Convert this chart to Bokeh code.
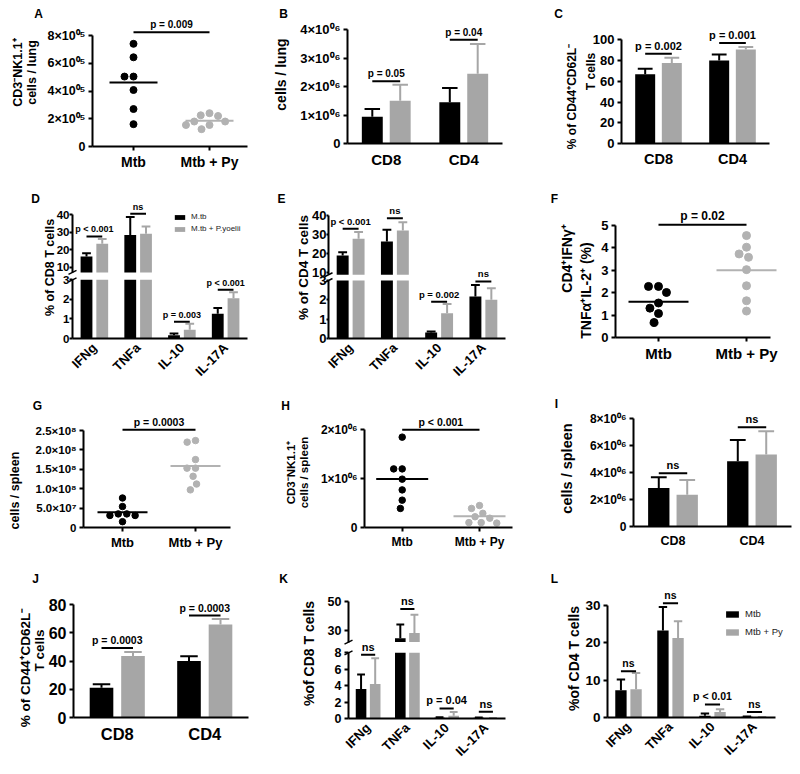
import math
import numpy as np
from bokeh.plotting import figure
from bokeh.models import (Range1d, FixedTicker, Label, Legend, LegendItem,
                          ColumnDataSource, LinearAxis)
from bokeh.transform import dodge
from bokeh.layouts import row, column
from bokeh.embed import file_html
from bokeh.resources import INLINE
from bokeh.core.properties import value

# ------------------------------------------------------------------ data
GROUPS = ["Mtb", "Mtb + Py"]
SUBSETS = ["CD8", "CD4"]
CYTOKINES = ["IFNg", "TNFa", "IL-10", "IL-17A"]

# A  CD3-NK1.1+ cells / lung
A_MTB = [7.4e5, 6.43e5, 5.04e5, 5.04e5, 4.07e5, 2.7e5, 1.61e5]
A_MTB_PY = [2.4e5, 2.25e5, 2.2e5, 1.8e5, 1.8e5, 1.55e5, 1.55e5, 1.25e5]
A_TICKS = [0, 200000, 400000, 600000, 800000]
A_TICK_LABELS = ["0", "2×10⁰⁵", "4×10⁰⁵", "6×10⁰⁵", "8×10⁰⁵"]
A_P_TEXT = "p = 0.009"
A_P_Y = 8.24e5

# B  cells / lung
B_MTB = [0.94e6, 1.45e6]
B_MTB_SD = [0.27e6, 0.50e6]
B_PY = [1.50e6, 2.45e6]
B_PY_SD = [0.57e6, 1.05e6]
B_TICKS = [0, 1000000, 2000000, 3000000, 4000000]
B_TICK_LABELS = ["0", "1×10⁰⁶", "2×10⁰⁶", "3×10⁰⁶", "4×10⁰⁶"]
B_P_TEXT = ["p = 0.05", "p = 0.04"]
B_P_Y = [2.19e6, 3.65e6]

# C  % CD44+CD62L- T cells (lung)
C_MTB = [66.7, 80.1]
C_MTB_SD = [5.4, 5.8]
C_PY = [77.6, 90.7]
C_PY_SD = [5.1, 2.3]
C_TICKS = [0, 20, 40, 60, 80, 100]
C_P_TEXT = ["p = 0.002", "p = 0.001"]
C_P_Y = [86.5, 96.8]

# D  % of CD8 T cells (lung cytokines)
D_MTB = [16.1, 28.5, 0.17, 1.27]
D_MTB_SD = [1.9, 10.2, 0.09, 0.29]
D_PY = [23.4, 29.1, 0.45, 2.06]
D_PY_SD = [2.8, 4.2, 0.30, 0.31]
D_LOW_TICKS = [0, 1, 2, 3]
D_UP_TICKS = [10, 20, 30, 40]
D_BREAK = 7.0
D_P_TEXT = ["p < 0.001", "ns", "p = 0.003", "p < 0.001"]
D_P_Y = [27.6, 40.6, 0.86, 2.49]
D_LEGEND = ["M.tb", "M.tb + P.yoelii"]

# E  % of CD4 T cells (lung cytokines)
E_MTB = [19.1, 26.4, 0.31, 2.17]
E_MTB_SD = [1.7, 6.1, 0.05, 0.60]
E_PY = [27.8, 32.2, 1.30, 2.00]
E_PY_SD = [3.5, 4.3, 0.49, 0.60]
E_LOW_TICKS = [0, 1, 2, 3]
E_UP_TICKS = [10, 20, 30, 40]
E_BREAK = 9.0
E_P_TEXT = ["p < 0.001", "ns", "p = 0.002", "ns"]
E_P_Y = [33.0, 38.6, 1.90, 2.95]

# F  CD4+IFNg+TNFa+IL-2+ (%)
F_MTB = [2.28, 2.28, 2.01, 1.54, 1.31, 1.07, 0.67]
F_MTB_PY = [4.55, 4.03, 3.73, 3.58, 3.03, 2.31, 1.64, 1.18]
F_TICKS = [0, 1, 2, 3, 4, 5]
F_P_TEXT = "p = 0.02"
F_P_Y = 5.03

# G  cells / spleen
G_MTB = [7.6e7, 5.4e7, 3.5e7, 3.5e7, 3.1e7, 3.1e7, 1.5e7]
G_MTB_PY = [2.24e8, 2.2e8, 1.75e8, 1.53e8, 1.53e8, 1.32e8, 1.12e8, 0.97e8]
G_TICKS = [0, 50000000, 100000000, 150000000, 200000000, 250000000]
G_TICK_LABELS = ["0", "5.0×10⁷", "1.0×10⁸", "1.5×10⁸", "2.0×10⁸", "2.5×10⁸"]
G_P_TEXT = "p = 0.0003"
G_P_Y = 2.52e8

# H  CD3-NK1.1+ cells / spleen
H_MTB = [1.85e6, 1.2e6, 1.2e6, 0.99e6, 0.77e6, 0.56e6, 0.39e6]
H_MTB_PY = [0.45e6, 0.39e6, 0.29e6, 0.22e6, 0.19e6, 0.10e6, 0.10e6, 0.09e6]
H_TICKS = [0, 1000000, 2000000]
H_TICK_LABELS = ["0", "1×10⁰⁶", "2×10⁰⁶"]
H_P_TEXT = "p < 0.001"
H_P_Y = 2.0e6

# I  cells / spleen (CD8, CD4)
I_MTB = [2.86e6, 4.84e6]
I_MTB_SD = [0.79e6, 1.59e6]
I_PY = [2.36e6, 5.34e6]
I_PY_SD = [1.09e6, 1.74e6]
I_TICKS = [0, 2000000, 4000000, 6000000, 8000000]
I_TICK_LABELS = ["0", "2×10⁰⁶", "4×10⁰⁶", "6×10⁰⁶", "8×10⁰⁶"]
I_P_TEXT = ["ns", "ns"]
I_P_Y = [3.95e6, 7.38e6]

# J  % CD44+CD62L- T cells (spleen)
J_MTB = [21.2, 40.1]
J_MTB_SD = [2.4, 3.3]
J_PY = [43.6, 66.0]
J_PY_SD = [2.9, 4.0]
J_TICKS = [0, 20, 40, 60, 80]
J_P_TEXT = ["p = 0.0003", "p = 0.0003"]
J_P_Y = [49.3, 72.4]

# K  % of CD8 T cells (spleen cytokines)
K_MTB = [3.6, 24.7, 0.10, 0.10]
K_MTB_SD = [1.75, 9.4, 0.04, 0.03]
K_PY = [4.2, 28.2, 0.35, 0.05]
K_PY_SD = [3.15, 12.6, 0.45, 0.02]
K_LOW_TICKS = [0, 2, 4, 6, 8]
K_UP_TICKS = [30, 50]
K_BREAK = 22.0
K_P_TEXT = ["ns", "ns", "p = 0.04", "ns"]
K_P_Y = [7.76, 44.9, 1.22, 0.82]

# L  % of CD4 T cells (spleen cytokines)
L_MTB = [7.3, 23.3, 0.45, 0.20]
L_MTB_SD = [2.85, 6.3, 0.62, 0.10]
L_PY = [7.57, 21.3, 1.50, 0.10]
L_PY_SD = [4.33, 4.5, 0.70, 0.05]
L_TICKS = [0, 10, 20, 30]
L_P_TEXT = ["ns", "ns", "p < 0.01", "ns"]
L_P_Y = [12.4, 30.6, 3.5, 1.5]
L_LEGEND = ["Mtb", "Mtb + Py"]

# ------------------------------------------------------------------ style
FONT = "Liberation Sans"
BLACK = "#000000"
GRAY = "#a6a6a6"
DOT_GRAY = "#b2b2b2"
BW = 0.27      # bar width (fraction of a category)
OFF = 0.18     # dodge of each series
CW = 0.10      # half width of error caps


def lin(p0, v0, p1, v1):
    k = (v1 - v0) / (p1 - p0)
    return lambda a: v0 + (a - p0) * k


def style_axis(ax, size, ticks=True, tick_out=4, standoff=3):
    ax.axis_line_width = 2
    ax.axis_line_color = BLACK
    ax.major_tick_line_width = 2
    ax.major_tick_line_color = BLACK if ticks else None
    ax.major_tick_out = tick_out
    ax.major_tick_in = 0
    ax.minor_tick_line_color = None
    ax.major_label_text_font = FONT
    ax.major_label_text_font_style = "bold"
    ax.major_label_text_font_size = size
    ax.major_label_text_color = BLACK
    ax.major_label_standoff = standoff


class Panel:
    """A figure whose frame is the whole box; axes are pinned inside it."""

    def __init__(self, spec, xmap):
        self.spec = spec
        x0, y0, w, h = spec["box"]
        self.xv = xmap
        (yp0, yv0), (yp1, yv1) = spec["ycal"]
        self.yv = lin(yp0, yv0, yp1, yv1)
        self.p = figure(width=w, height=h,
                        x_range=Range1d(self.xv(x0), self.xv(x0 + w)),
                        y_range=Range1d(self.yv(y0 + h), self.yv(y0)),
                        output_backend="svg", toolbar_location=None,
                        min_border=0, x_axis_location=None, y_axis_location=None)
        p = self.p
        p.outline_line_color = None
        p.xgrid.visible = False
        p.ygrid.visible = False
        p.background_fill_color = "white"
        p.border_fill_color = "white"

    def yaxis(self, ticks, labels=None, rn="default", bounds=None):
        fl = self.spec["frame"][0]
        ax = LinearAxis(y_range_name=rn, fixed_location=self.xv(fl),
                        bounds=bounds if bounds else (ticks[0], ticks[-1]),
                        ticker=FixedTicker(ticks=ticks))
        style_axis(ax, self.spec["tick_size"], tick_out=self.spec.get("tick_out", 4),
                   standoff=self.spec.get("standoff", 3))
        if labels is not None:
            ax.major_label_overrides = dict(zip(ticks, labels))
        self.p.add_layout(ax, "left")
        return ax

    def xaxis(self, ticks, labels, tick_marks):
        fl, fr, ft, fb = self.spec["frame"]
        ax = LinearAxis(fixed_location=0, bounds=(self.xv(fl), self.xv(fr)),
                        ticker=FixedTicker(ticks=ticks))
        style_axis(ax, self.spec["cat_size"], ticks=tick_marks)
        ax.major_label_overrides = dict(zip(ticks, labels))
        if self.spec.get("rotate"):
            ax.major_label_orientation = math.pi / 4
        self.p.add_layout(ax, "below")
        return ax

    def label(self, text, x, y, size, angle=0.0):
        x0, y0, w, h = self.spec["box"]
        self.p.add_layout(Label(x=x - x0, y=(y0 + h) - y, x_units="screen",
                                y_units="screen", text=text, angle=angle,
                                text_font=FONT, text_font_style="bold",
                                text_font_size=size, text_align="center",
                                text_baseline="middle", text_color=BLACK))

    def texts(self):
        s = self.spec
        self.label(s["name"], s["letter"][0], s["letter"][1], "12px")
        for (t, x, y) in s["ylab"]:
            self.label(t, x, y, s["ylab_size"], angle=math.pi / 2)


def swarm(ys_px, d):
    placed, out = [], []
    for y in ys_px:
        cands = [0.0]
        for (px, py) in placed:
            dy = abs(y - py)
            if dy < d:
                dx = math.sqrt(d * d - dy * dy)
                cands.extend([px - dx, px + dx])
        ok = [c for c in cands
              if all((c - px) ** 2 + (y - py) ** 2 >= d * d - 1e-6 for px, py in placed)]
        best = min(ok, key=lambda c: (abs(c), c))
        placed.append((best, y))
        out.append(best)
    return out


def p_text(p, src, x, size, rn="default"):
    p.text(x=x, y="y", text="t", source=src, text_font=value(FONT),
           text_font_style="bold", text_font_size=value(size),
           text_align="center", text_baseline="bottom", y_offset=-2,
           text_color=BLACK, y_range_name=rn)


def scatter_panel(spec, mtb, mtb_py, ticks, tick_labels, ptext, p_y):
    xa, xb = spec["xcal"]
    P = Panel(spec, lin(xa, 0.0, xb, 1.0))
    p = P.p
    xpx = xb - xa
    (yp0, yv0), (yp1, yv1) = spec["ycal"]
    ypx = (yp0 - yp1) / (yv1 - yv0)
    hw = spec["mean_hw"] / xpx
    for gi, (vals, col) in enumerate([(mtb, BLACK), (mtb_py, DOT_GRAY)]):
        order = sorted(vals, reverse=True)
        offs = swarm([v * ypx for v in order], spec["dot"] + 2.0)
        p.scatter([gi + o / xpx for o in offs], order, size=spec["dot"],
                  fill_color=col, line_color=col)
        m = float(np.mean(vals))
        p.segment(x0=[gi - hw], x1=[gi + hw], y0=[m], y1=[m],
                  line_color=col, line_width=2)
    src = ColumnDataSource(dict(x0=[0.0], x1=[1.0], xm=[0.5], y=[p_y], t=[ptext]))
    p.segment(x0="x0", x1="x1", y0="y", y1="y", source=src, line_color=BLACK, line_width=2)
    p_text(p, src, "xm", spec["p_size"])
    P.yaxis(ticks, tick_labels)
    P.xaxis([0, 1], GROUPS, True)
    P.texts()
    return p


def draw_series(p, xs, vals, sds, off, color, lo, hi, rn):
    v = np.asarray(vals, float)
    e = v + np.asarray(sds, float)
    src = ColumnDataSource(dict(x=xs, top=np.clip(v, lo, hi),
                                bottom=np.full(len(v), lo),
                                e0=np.clip(v, lo, hi), e1=np.clip(e, lo, hi)))
    r = p.vbar(x=dodge("x", off), top="top", bottom="bottom", width=BW, source=src,
               fill_color=color, line_color=None, y_range_name=rn)
    p.segment(x0=dodge("x", off), x1=dodge("x", off), y0="e0", y1="e1", source=src,
              line_color=color, line_width=2, y_range_name=rn)
    mask = (e >= lo) & (e <= hi) & (v >= lo)
    csrc = ColumnDataSource(dict(x=xs[mask], y=e[mask]))
    p.segment(x0=dodge("x", off - CW), x1=dodge("x", off + CW), y0="y", y1="y",
              source=csrc, line_color=color, line_width=2, y_range_name=rn)
    return r


def bar_panel(spec, cats, mtb, mtb_sd, py, py_sd, ptexts, p_ys, ticks,
              tick_labels=None, broken=None):
    n = len(cats)
    fl, fr, ft, fb = spec["frame"]
    x0, y0, w, h = spec["box"]
    P = Panel(spec, lin(fl, -0.5, fr, n - 0.5))
    p = P.p
    xs = np.arange(n, dtype=float)
    if broken is None:
        segs = [(0.0, np.inf, "default")]
    else:
        (up0, uv0), (up1, uv1) = broken["ycal"]
        uv = lin(up0, uv0, up1, uv1)
        p.extra_y_ranges = {"upper": Range1d(uv(y0 + h), uv(y0))}
        segs = [(0.0, float(ticks[-1]), "default"), (broken["brk"], np.inf, "upper")]
    first = {}
    for (lo, hi, rn) in segs:
        rb = draw_series(p, xs, mtb, mtb_sd, -OFF, BLACK, lo, hi, rn)
        rg = draw_series(p, xs, py, py_sd, OFF, GRAY, lo, hi, rn)
        first.setdefault("b", rb)
        first.setdefault("g", rg)
    for xi, t, y in zip(xs, ptexts, p_ys):
        rn = "upper" if (broken is not None and y > ticks[-1]) else "default"
        src = ColumnDataSource(dict(x=[xi], y=[y], t=[t]))
        p.segment(x0=dodge("x", -OFF), x1=dodge("x", OFF), y0="y", y1="y", source=src,
                  line_color=BLACK, line_width=2, y_range_name=rn)
        p_text(p, src, "x", spec["p_size"], rn)
    P.yaxis(ticks, tick_labels)
    if broken is not None:
        P.yaxis(broken["ticks"], rn="upper", bounds=(broken["brk"], broken["ticks"][-1]))
        # small slanted break marks at both ends of the gap
        (yp0, yv0), (yp1, yv1) = spec["ycal"]
        low_px = lin(yv0, yp0, yv1, yp1)(ticks[-1])
        up_px = lin(uv0, up0, uv1, up1)(broken["brk"])
        mx0, mx1 = P.xv(fl - 4), P.xv(fl + 4)
        p.segment(x0=[mx0], x1=[mx1], y0=[P.yv(low_px + 2)], y1=[P.yv(low_px - 2)],
                  line_color=BLACK, line_width=1.5)
        p.segment(x0=[mx0], x1=[mx1], y0=[P.yv(up_px + 2)], y1=[P.yv(up_px - 2)],
                  line_color=BLACK, line_width=1.5)
    P.xaxis(list(range(n)), cats, False)
    if spec.get("legend"):
        lg = spec["legend"]
        leg = Legend(items=[LegendItem(label=lg["labels"][0], renderers=[first["b"]]),
                            LegendItem(label=lg["labels"][1], renderers=[first["g"]])],
                     location=(lg["x"] - x0, (y0 + h) - lg["y"]),
                     glyph_width=lg["gw"], glyph_height=lg["gh"],
                     label_height=lg["gh"], label_standoff=5, spacing=lg["sp"],
                     padding=0, margin=0, border_line_color=None,
                     background_fill_alpha=0, label_text_font=FONT,
                     label_text_font_size=lg["size"], label_text_color="#222222")
        p.add_layout(leg)
    P.texts()
    return p


# ------------------------------------------------------------------ panels
# boxes are (left, top, width, height) in page pixels; the page has no margin
COLS = [(0, 268), (268, 262), (530, 269)]
ROWS = [(0, 187), (187, 198), (385, 181), (566, 207)]


def box(c, r):
    return (COLS[c][0], ROWS[r][0], COLS[c][1], ROWS[r][1])


SA = dict(name="A", box=box(0, 0), frame=(92, 247, 14, 146),
          ycal=((146, 0), (35, 8e5)), xcal=(133, 209), tick_size="12.5px",
          cat_size="14px", p_size="10px", dot=7, mean_hw=24, letter=(38, 13),
          ylab=[("CD3⁻NK1.1⁺", 17, 72), ("cells / lung", 31, 72)], ylab_size="12.5px")
SB = dict(name="B", box=box(1, 0), frame=(347, 502, 14, 143),
          ycal=((143, 0), (29.3, 4e6)), tick_size="13px", cat_size="15px",
          p_size="10px", letter=(283, 13), ylab=[("cells / lung", 280, 74)],
          ylab_size="14px")
SC = dict(name="C", box=box(2, 0), frame=(621, 769, 14, 143),
          ycal=((143, 0), (39.3, 100)), tick_size="13px", cat_size="14.5px",
          p_size="11px", letter=(558, 13),
          ylab=[("% of CD44⁺CD62L⁻", 571, 96), ("T cells", 590, 71)], ylab_size="12px")
SD = dict(name="D", box=box(0, 1), frame=(72, 247, 195, 338),
          ycal=((338, 0), (279.3, 3)), tick_size="11.5px", cat_size="13px",
          p_size="9px", letter=(35, 198), rotate=True, tick_out=3, standoff=0,
          ylab=[("% of CD8 T cells", 49, 267)], ylab_size="12.5px",
          legend=dict(labels=D_LEGEND, x=173, y=233, gw=13, gh=6, sp=3, size="8px"))
SE = dict(name="E", box=box(1, 1), frame=(328, 505, 195, 338),
          ycal=((338, 0), (280, 3)), tick_size="13px", cat_size="13px",
          p_size="9.5px", letter=(281, 198), rotate=True, tick_out=2, standoff=0,
          ylab=[("% of CD4 T cells", 303, 267)], ylab_size="13.5px")
SF = dict(name="F", box=box(2, 1), frame=(615, 770, 205, 337),
          ycal=((337, 0), (225, 5)), xcal=(658, 746), tick_size="13px",
          cat_size="15px", p_size="12px", dot=8, mean_hw=30, letter=(554, 198),
          ylab=[("CD4⁺IFNγ⁺", 566, 258), ("TNFα⁺IL-2⁺ (%)", 585, 290)],
          ylab_size="14px")
SG = dict(name="G", box=box(0, 2), frame=(83, 230, 412, 527),
          ycal=((527, 0), (430, 2.5e8)), xcal=(122, 195), tick_size="11.5px",
          cat_size="13px", p_size="10.5px", dot=6.5, mean_hw=25, letter=(37, 405),
          ylab=[("cells / spleen", 14, 490)], ylab_size="12.5px")
SH = dict(name="H", box=box(1, 2), frame=(364, 512, 412, 527),
          ycal=((527, 0), (429.3, 2e6)), xcal=(401.7, 479), tick_size="12px",
          cat_size="12px", p_size="10.5px", dot=6.5, mean_hw=26, letter=(285, 405),
          ylab=[("CD3⁻NK1.1⁺", 290, 472), ("cells / spleen", 303, 472)],
          ylab_size="11.5px")
SI = dict(name="I", box=box(2, 2), frame=(633, 791, 410, 526),
          ycal=((526, 0), (418.3, 8e6)), tick_size="12px", cat_size="12.5px",
          p_size="11px", letter=(556, 403), ylab=[("cells / spleen", 566, 468)],
          ylab_size="14.5px")
SJ = dict(name="J", box=box(0, 3), frame=(73, 248, 598, 717),
          ycal=((717, 0), (604.3, 80)), tick_size="16px", cat_size="16.5px",
          p_size="10.5px", letter=(35, 578),
          ylab=[("% of CD44⁺CD62L⁻", 25, 667), ("T cells", 39, 650)], ylab_size="13.5px")
SK = dict(name="K", box=box(1, 3), frame=(348, 505, 594, 718),
          ycal=((718, 0), (652.3, 8)), tick_size="12.5px", cat_size="13px",
          p_size="11px", letter=(283, 578), rotate=True,
          ylab=[("%of CD8 T cells", 308, 653)], ylab_size="14px")
SL = dict(name="L", box=box(2, 3), frame=(607, 775, 588, 717),
          ycal=((717, 0), (605, 30)), tick_size="13.5px", cat_size="13px",
          p_size="10.5px", letter=(554, 578), rotate=True,
          ylab=[("%of CD4 T cells", 573, 658)], ylab_size="14px",
          legend=dict(labels=L_LEGEND, x=724, y=637, gw=16, gh=8, sp=7, size="9.5px"))

pA = scatter_panel(SA, A_MTB, A_MTB_PY, A_TICKS, A_TICK_LABELS, A_P_TEXT, A_P_Y)
pB = bar_panel(SB, SUBSETS, B_MTB, B_MTB_SD, B_PY, B_PY_SD, B_P_TEXT, B_P_Y,
               B_TICKS, B_TICK_LABELS)
pC = bar_panel(SC, SUBSETS, C_MTB, C_MTB_SD, C_PY, C_PY_SD, C_P_TEXT, C_P_Y, C_TICKS)
pD = bar_panel(SD, CYTOKINES, D_MTB, D_MTB_SD, D_PY, D_PY_SD, D_P_TEXT, D_P_Y,
               D_LOW_TICKS, broken=dict(ycal=((266.7, 10), (214.3, 40)),
                                        brk=D_BREAK, ticks=D_UP_TICKS))
pE = bar_panel(SE, CYTOKINES, E_MTB, E_MTB_SD, E_PY, E_PY_SD, E_P_TEXT, E_P_Y,
               E_LOW_TICKS, broken=dict(ycal=((272.3, 10), (215, 40)),
                                        brk=E_BREAK, ticks=E_UP_TICKS))
pF = scatter_panel(SF, F_MTB, F_MTB_PY, F_TICKS, None, F_P_TEXT, F_P_Y)
pG = scatter_panel(SG, G_MTB, G_MTB_PY, G_TICKS, G_TICK_LABELS, G_P_TEXT, G_P_Y)
pH = scatter_panel(SH, H_MTB, H_MTB_PY, H_TICKS, H_TICK_LABELS, H_P_TEXT, H_P_Y)
pI = bar_panel(SI, SUBSETS, I_MTB, I_MTB_SD, I_PY, I_PY_SD, I_P_TEXT, I_P_Y,
               I_TICKS, I_TICK_LABELS)
pJ = bar_panel(SJ, SUBSETS, J_MTB, J_MTB_SD, J_PY, J_PY_SD, J_P_TEXT, J_P_Y, J_TICKS)
pK = bar_panel(SK, CYTOKINES, K_MTB, K_MTB_SD, K_PY, K_PY_SD, K_P_TEXT, K_P_Y,
               K_LOW_TICKS, broken=dict(ycal=((630, 30), (601, 50)),
                                        brk=K_BREAK, ticks=K_UP_TICKS))
pL = bar_panel(SL, CYTOKINES, L_MTB, L_MTB_SD, L_PY, L_PY_SD, L_P_TEXT, L_P_Y, L_TICKS)

layout = column(row(pA, pB, pC), row(pD, pE, pF), row(pG, pH, pI), row(pJ, pK, pL))

with open("out.html", "w") as f:
    f.write(file_html(layout, INLINE))
